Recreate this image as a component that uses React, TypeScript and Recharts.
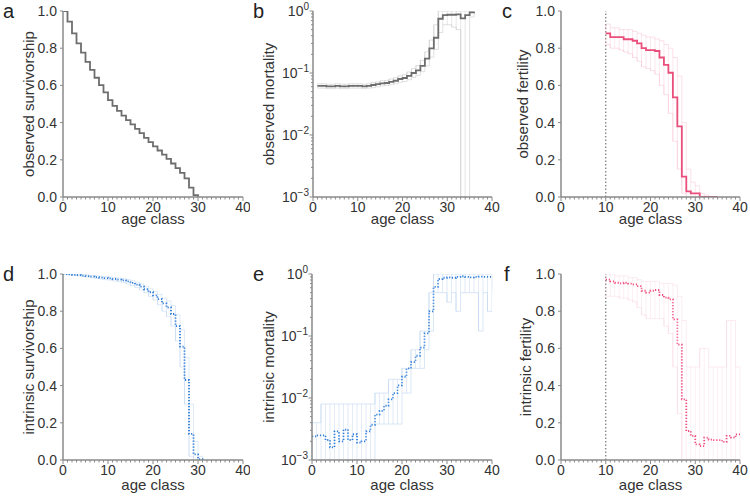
import React from 'react';
import { LineChart, Line, XAxis, YAxis, ErrorBar, ReferenceLine } from 'recharts';

const FONT = '"Liberation Sans", Arial, Helvetica, sans-serif';
const AXIS = '#8a8a8a';
const TXT = '#333333';

// ---- tick labels ----
const X_TICKS = [0,1,2,3,4,5,6,7,8,9,10,11,12,13,14,15,16,17,18,19,20,21,22,23,24,25,26,27,28,29,30,31,32,33,34,35,36,37,38,39,40];
const LIN_TICKS = [0, 0.2, 0.4, 0.6, 0.8, 1.0];
const LOG_TICKS = [0.001,0.002,0.003,0.004,0.005,0.006,0.007,0.008,0.009,0.01,0.02,0.03,0.04,0.05,0.06,0.07,0.08,0.09,0.1,0.2,0.3,0.4,0.5,0.6,0.7,0.8,0.9,1];

// ---- a: observed survivorship (ages from 0) ----
const aStart = 0;
const aV = [1.0,0.943,0.88,0.826,0.776,0.727,0.683,0.641,0.602,0.563,0.521,0.49,0.463,0.437,0.413,0.39,0.366,0.343,0.318,0.295,0.272,0.25,0.228,0.205,0.18,0.155,0.13,0.1,0.05,0.01,0];

// ---- b: observed mortality (ages from 1) ----
const bStart = 1;
const bV = [0.062,0.062,0.061,0.061,0.062,0.061,0.061,0.062,0.062,0.062,0.061,0.062,0.064,0.066,0.068,0.069,0.072,0.075,0.08,0.083,0.09,0.1,0.11,0.13,0.17,0.25,0.37,0.75,0.86,0.87,0.87,0.88,0.76,0.86,0.95,0.97];
const bLo = [0.057,0.057,0.056,0.056,0.057,0.056,0.056,0.057,0.057,0.057,0.056,0.057,0.058,0.06,0.062,0.063,0.065,0.067,0.071,0.073,0.078,0.085,0.092,0.105,0.13,0.18,0.24,0.45,0.6,0.6,0.55,0.5,0.001,0.001,0.8,0.9];
const bHi = [0.067,0.067,0.066,0.066,0.067,0.066,0.066,0.067,0.067,0.067,0.066,0.067,0.07,0.072,0.075,0.076,0.08,0.084,0.09,0.094,0.104,0.118,0.132,0.16,0.22,0.34,0.6,1,1,1,1,1,1,1,1,1];

// ---- c: observed fertility (ages from 10) ----
const cStart = 10;
const cV = [0.88,0.86,0.86,0.86,0.848,0.848,0.84,0.826,0.8,0.79,0.79,0.785,0.75,0.71,0.668,0.536,0.38,0.11,0.03,0.02,0.02,0,0,0,0,0];
const cLo = [0.82,0.8,0.8,0.79,0.78,0.77,0.75,0.73,0.7,0.69,0.68,0.66,0.6,0.55,0.45,0.3,0.15,0.02,0,0,0,0,0,0,0,0];
const cHi = [0.93,0.91,0.91,0.9,0.9,0.9,0.89,0.88,0.87,0.86,0.86,0.85,0.84,0.82,0.8,0.75,0.65,0.4,0.15,0.08,0.06,0.02,0.01,0,0,0];

// ---- d: intrinsic survivorship (ages from 0) ----
const dStart = 0;
const dV = [1.0,0.998,0.996,0.994,0.991,0.989,0.986,0.983,0.981,0.978,0.976,0.973,0.97,0.966,0.96,0.952,0.943,0.932,0.918,0.902,0.885,0.865,0.842,0.82,0.785,0.72,0.61,0.43,0.14,0.03,0.005,0];
const dLo = [1.0,0.996,0.993,0.99,0.986,0.983,0.98,0.976,0.973,0.97,0.967,0.963,0.959,0.954,0.947,0.938,0.927,0.915,0.9,0.88,0.86,0.835,0.8,0.77,0.72,0.64,0.5,0.3,0.02,0,0,0];
const dHi = [1.0,1.0,0.999,0.998,0.996,0.994,0.992,0.99,0.988,0.986,0.984,0.981,0.978,0.975,0.97,0.964,0.956,0.946,0.934,0.92,0.905,0.89,0.87,0.855,0.83,0.78,0.7,0.55,0.3,0.1,0.02,0];

// ---- e: intrinsic mortality (ages from 0) ----
const eStart = 0;
const eV = [0.0024,0.0025,0.0025,0.0021,0.0016,0.0029,0.002,0.0031,0.0021,0.0026,0.0019,0.002,0.0029,0.0037,0.0054,0.0062,0.0075,0.0095,0.012,0.016,0.022,0.03,0.038,0.048,0.065,0.11,0.25,0.62,0.83,0.87,0.88,0.87,0.9,0.92,0.9,0.88,0.9,0.91,0.9,0.9,0.9];
const eLo = [0.001,0.001,0.001,0.001,0.001,0.001,0.001,0.001,0.001,0.001,0.001,0.001,0.001,0.001,0.0038,0.0038,0.0038,0.0038,0.0038,0.0038,0.012,0.012,0.03,0.03,0.03,0.06,0.12,0.5,0.5,0.5,0.35,0.5,0.25,0.5,0.5,0.5,0.5,0.12,0.5,0.25,0.5];
const eHi = [0.004,0.004,0.008,0.008,0.008,0.008,0.008,0.008,0.008,0.008,0.008,0.008,0.008,0.008,0.012,0.012,0.012,0.02,0.02,0.02,0.03,0.03,0.06,0.06,0.12,0.12,0.5,1,1,1,1,1,1,1,1,1,1,1,1,1,1];

// ---- f: intrinsic fertility (ages from 10) ----
const fStart = 10;
const fV = [0.97,0.96,0.953,0.95,0.953,0.948,0.944,0.935,0.91,0.9,0.91,0.914,0.887,0.873,0.864,0.756,0.62,0.326,0.156,0.13,0.084,0.075,0.12,0.11,0.107,0.107,0.097,0.13,0.12,0.138,0.134];
const fLo = [0.88,0.88,0.88,0.87,0.87,0.86,0.85,0.82,0.78,0.76,0.76,0.76,0.76,0.72,0.68,0.5,0.25,0,0,0,0,0,0,0,0,0,0,0,0,0,0];
const fHi = [1,1,0.99,0.99,0.99,0.98,0.98,0.97,0.96,0.96,0.96,0.96,0.95,0.95,0.95,0.94,0.88,0.75,0.5,0.5,0.5,0.6,0.6,0.5,0.5,0.5,0.5,0.75,0.75,0.5,0.5];

type Row = { x: number; v: number; lo?: number; hi?: number; err?: [number, number] };

function build(start: number, v: number[], lo?: number[], hi?: number[]): Row[] {
  return v.map((val, i) => {
    const r: Row = { x: start + i, v: val };
    if (lo && hi) {
      r.lo = lo[i];
      r.hi = hi[i];
      r.err = [Math.max(0, val - lo[i]), Math.max(0, hi[i] - val)];
    }
    return r;
  });
}

function XTick(props: any) {
  const { x, y, payload } = props;
  const v = payload.value;
  const major = v % 10 === 0;
  return (
    <g>
      <line x1={x} x2={x} y1={y} y2={y + (major ? 4 : 2.5)} stroke={AXIS} strokeWidth={1} />
      {major && (
        <text x={x} y={y + 15} textAnchor="middle" fontSize={14} fill={TXT} fontFamily={FONT}>{v}</text>
      )}
    </g>
  );
}

function YTickLin(props: any) {
  const { x, y, payload } = props;
  return (
    <g>
      <line x1={x - 3} x2={x} y1={y} y2={y} stroke={AXIS} strokeWidth={1} />
      <text x={x - 6} y={y + 5} textAnchor="end" fontSize={14} fill={TXT} fontFamily={FONT}>{Number(payload.value).toFixed(1)}</text>
    </g>
  );
}

function YTickLog(props: any) {
  const { x, y, payload } = props;
  const lg = Math.log10(payload.value);
  const e = Math.round(lg);
  const major = Math.abs(lg - e) < 1e-6;
  const exp = e === 0 ? '0' : '\u2212' + String(-e);
  return (
    <g>
      <line x1={x - (major ? 3.5 : 2)} x2={x} y1={y} y2={y} stroke={AXIS} strokeWidth={1} />
      {major && (
        <text x={x - 4} y={y + 5} textAnchor="end" fontSize={14} fill={TXT} fontFamily={FONT}>
          10<tspan dy={-6} fontSize={10}>{exp}</tspan>
        </text>
      )}
    </g>
  );
}

interface PanelProps {
  colX: number; rowY: number; L: number; R: number; T: number; B: number;
  data: Row[]; log?: boolean; main: string; faint?: string; fo?: number; dashed?: boolean; refX?: number;
}

function Panel(p: PanelProps) {
  const margin = { top: p.T - p.rowY, left: p.L - p.colX - 50, right: p.colX + 250 - p.R, bottom: p.rowY + 250 - p.B - 20 };
  const hasBand = p.data[0].lo !== undefined;
  const fo = p.fo ?? 0.4;
  return (
    <div style={{ position: 'absolute', left: p.colX, top: p.rowY, width: 250, height: 250 }}>
      <LineChart width={250} height={250} data={p.data} margin={margin}>
        <XAxis type="number" dataKey="x" domain={[0, 40]} ticks={X_TICKS} interval={0} tickSize={0} tickMargin={0}
          tick={(tp: any) => <XTick {...tp} />} axisLine={{ stroke: AXIS, strokeWidth: 1.5 }} tickLine={false} height={20} allowDataOverflow />
        <YAxis type="number" width={50} scale={p.log ? 'log' : 'linear'} domain={p.log ? [0.001, 1] : [0, 1]}
          ticks={p.log ? LOG_TICKS : LIN_TICKS} interval={0} tickSize={0} tickMargin={0}
          tick={(tp: any) => (p.log ? <YTickLog {...tp} /> : <YTickLin {...tp} />)}
          axisLine={{ stroke: AXIS, strokeWidth: 1.5 }} tickLine={false} allowDataOverflow />
        {p.refX !== undefined && (
          <ReferenceLine x={p.refX} stroke="#777777" strokeDasharray="1.5 2" strokeWidth={1.2} />
        )}
        {hasBand && (
          <Line dataKey="lo" type="stepAfter" stroke={p.faint} strokeOpacity={fo} strokeWidth={1} dot={false} activeDot={false} isAnimationActive={false} />
        )}
        {hasBand && (
          <Line dataKey="hi" type="stepAfter" stroke={p.faint} strokeOpacity={fo} strokeWidth={1} dot={false} activeDot={false} isAnimationActive={false} />
        )}
        {hasBand && (
          <Line dataKey="v" type="stepAfter" stroke="none" dot={false} activeDot={false} isAnimationActive={false}>
            <ErrorBar dataKey="err" direction="y" width={0} stroke={p.faint} strokeOpacity={fo * 0.8} strokeWidth={1} isAnimationActive={false} />
          </Line>
        )}
        <Line dataKey="v" type="stepAfter" stroke={p.main} strokeWidth={1.8}
          strokeDasharray={p.dashed ? '1.2 1.8' : undefined} dot={false} activeDot={false} isAnimationActive={false} />
      </LineChart>
    </div>
  );
}

const letters = [
  { t: 'a', x: 3, y: 18 }, { t: 'b', x: 253, y: 18 }, { t: 'c', x: 502, y: 18 },
  { t: 'd', x: 3, y: 281 }, { t: 'e', x: 253, y: 281 }, { t: 'f', x: 504, y: 281 },
];
const xTitles = [
  { x: 153, y: 223.5 }, { x: 402.5, y: 223.5 }, { x: 650.5, y: 223.5 },
  { x: 153, y: 490 }, { x: 402, y: 490 }, { x: 650.5, y: 490 },
];
const yTitles = [
  { t: 'observed survivorship', x: 28, y: 104 },
  { t: 'observed mortality', x: 268, y: 104 },
  { t: 'observed fertility', x: 522, y: 104 },
  { t: 'intrinsic survivorship', x: 28, y: 367 },
  { t: 'intrinsic mortality', x: 268, y: 367 },
  { t: 'intrinsic fertility', x: 525, y: 367 },
];

export default function App() {
  return (
    <div style={{ position: 'absolute', left: 0, top: 0, width: 750, height: 499, background: '#ffffff', fontFamily: FONT }}>
      <Panel colX={0} rowY={0} L={63} R={243} T={11} B={197} data={build(aStart, aV)} main="#6e6e6e" />
      <Panel colX={250} rowY={0} L={313} R={492} T={11} B={197} data={build(bStart, bV, bLo, bHi)} log main="#6e6e6e" faint="#bdbdbd" fo={0.45} />
      <Panel colX={500} rowY={0} L={561} R={740} T={11} B={197} data={build(cStart, cV, cLo, cHi)} main="#ea4f7c" faint="#f4a9c0" fo={0.35} refX={10} />
      <Panel colX={0} rowY={249} L={63} R={243} T={274} B={460} data={build(dStart, dV, dLo, dHi)} main="#2f7ed8" faint="#b6d0ef" fo={0.45} dashed />
      <Panel colX={250} rowY={249} L={312} R={492} T={274} B={460} data={build(eStart, eV, eLo, eHi)} log main="#2f7ed8" faint="#b6d0ef" fo={0.5} dashed />
      <Panel colX={500} rowY={249} L={561} R={740} T={274} B={460} data={build(fStart, fV, fLo, fHi)} main="#ee4d7f" faint="#f6b6ca" fo={0.28} dashed refX={10} />
      <svg width={750} height={499} style={{ position: 'absolute', left: 0, top: 0, pointerEvents: 'none' }}>
        {letters.map((l) => (
          <text key={l.t} x={l.x} y={l.y} fontSize={20} fill="#222222" fontFamily={FONT}>{l.t}</text>
        ))}
        {xTitles.map((t, i) => (
          <text key={'x' + i} x={t.x} y={t.y} fontSize={15} fill={TXT} textAnchor="middle" fontFamily={FONT}>age class</text>
        ))}
        {yTitles.map((t, i) => (
          <text key={'y' + i} x={t.x} y={t.y} fontSize={15} fill={TXT} textAnchor="middle" dominantBaseline="central"
            transform={`rotate(-90 ${t.x} ${t.y})`} fontFamily={FONT}>{t.t}</text>
        ))}
      </svg>
    </div>
  );
}
